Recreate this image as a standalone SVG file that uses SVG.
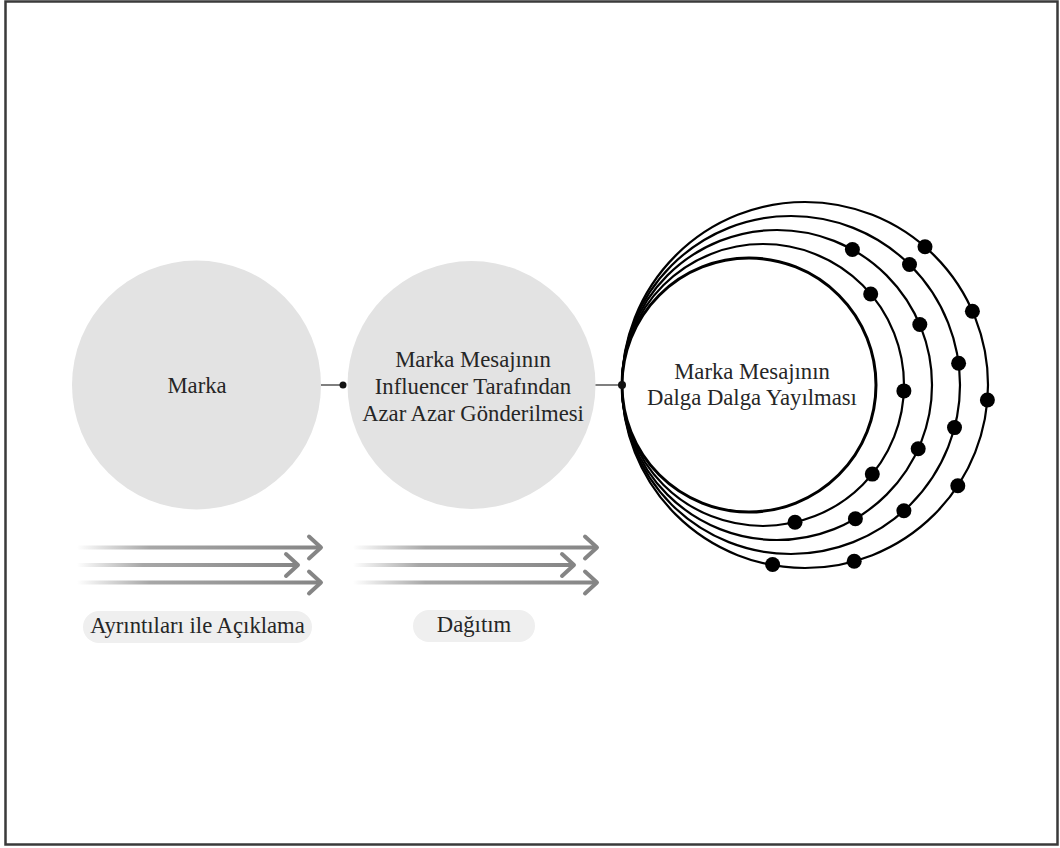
<svg xmlns="http://www.w3.org/2000/svg" width="1060" height="848" viewBox="0 0 1060 848">
  <style>
    .txt { font-family: "Liberation Serif", "Times New Roman", serif; font-size: 22.7px; fill: #262626; text-anchor: middle; }
    .node { fill: #e3e3e3; }
    .pill { fill: #efefef; }
    .ring { fill: none; stroke: #000; stroke-width: 2.2; }
    .ring-inner { fill: #fff; stroke: #000; stroke-width: 3; }
    .dot { fill: #000; }
    .conn { stroke: #555; stroke-width: 1.5; fill: none; }
    .head { fill: none; stroke: #858585; stroke-width: 4; stroke-linecap: round; stroke-linejoin: round; }
  </style>
  <defs>
    <linearGradient id="fade" x1="0" y1="0" x2="1" y2="0">
      <stop offset="0" stop-color="#888" stop-opacity="0"/>
      <stop offset="0.3" stop-color="#8a8a8a" stop-opacity="0.75"/>
      <stop offset="1" stop-color="#858585" stop-opacity="1"/>
    </linearGradient>
  </defs>

  <rect x="0" y="0" width="1060" height="848" fill="#fff"/>
  <rect x="5.5" y="1.5" width="1052" height="843" fill="none" stroke="#3a3a3a" stroke-width="2.5"/>

  <g id="node-marka">
    <circle class="node" cx="196.5" cy="385" r="124.5"/>
    <text class="txt" x="197" y="393">Marka</text>
  </g>

  <g id="node-influencer">
    <circle class="node" cx="471.5" cy="385" r="124"/>
    <text class="txt" x="473" y="367">Marka Mesajının</text>
    <text class="txt" x="473" y="394">Influencer Tarafından</text>
    <text class="txt" x="473" y="421">Azar Azar Gönderilmesi</text>
  </g>

  <g id="node-wave">
    <circle class="ring" cx="805" cy="385" r="183" stroke-width="1.8"/>
    <circle class="ring" cx="791" cy="385" r="169"/>
    <circle class="ring" cx="777" cy="385" r="155"/>
    <circle class="ring" cx="763" cy="385" r="141"/>
    <circle class="ring-inner" cx="749" cy="385" r="127"/>
    <g class="dots">
      <circle class="dot" cx="870.7" cy="294" r="7.5"/>
      <circle class="dot" cx="903.9" cy="390.9" r="7.5"/>
      <circle class="dot" cx="872.3" cy="474.1" r="7.5"/>
      <circle class="dot" cx="795" cy="522.3" r="7.5"/>
      <circle class="dot" cx="852.4" cy="249.5" r="7.5"/>
      <circle class="dot" cx="919.8" cy="324.5" r="7.5"/>
      <circle class="dot" cx="918.2" cy="448.8" r="7.5"/>
      <circle class="dot" cx="855.4" cy="518.7" r="7.5"/>
      <circle class="dot" cx="909.5" cy="264.5" r="7.5"/>
      <circle class="dot" cx="958.6" cy="363.2" r="7.5"/>
      <circle class="dot" cx="954.5" cy="427.6" r="7.5"/>
      <circle class="dot" cx="903.9" cy="510.7" r="7.5"/>
      <circle class="dot" cx="925" cy="246.8" r="7.5"/>
      <circle class="dot" cx="972.4" cy="311.2" r="7.5"/>
      <circle class="dot" cx="987.4" cy="400" r="7.5"/>
      <circle class="dot" cx="957.8" cy="485.7" r="7.5"/>
      <circle class="dot" cx="854.2" cy="561.3" r="7.5"/>
      <circle class="dot" cx="772.6" cy="564.5" r="7.5"/>
    </g>
    <text class="txt" x="752" y="379">Marka Mesajının</text>
    <text class="txt" x="752" y="405">Dalga Dalga Yayılması</text>
  </g>

  <g id="connectors">
    <line class="conn" x1="321" y1="385" x2="343" y2="385"/>
    <circle cx="343" cy="385" r="3.5" fill="#111"/>
    <line class="conn" x1="595.5" y1="385" x2="622" y2="385"/>
    <circle cx="622" cy="385" r="4" fill="#111"/>
  </g>

  <g id="arrows-aciklama">
    <rect x="77" y="545.5" width="242" height="4" fill="url(#fade)"/>
    <rect x="77" y="563" width="219" height="4" fill="url(#fade)"/>
    <rect x="77" y="580.5" width="242" height="4" fill="url(#fade)"/>
    <polyline class="head" points="309,536.5 321,547.5 309,558.5"/>
    <polyline class="head" points="286,554 298,565 286,576"/>
    <polyline class="head" points="309,571.5 321,582.5 309,593.5"/>
  </g>

  <g id="arrows-dagitim">
    <rect x="353" y="545.5" width="242" height="4" fill="url(#fade)"/>
    <rect x="353" y="563" width="219" height="4" fill="url(#fade)"/>
    <rect x="353" y="580.5" width="242" height="4" fill="url(#fade)"/>
    <polyline class="head" points="585,536.5 597,547.5 585,558.5"/>
    <polyline class="head" points="562,554 574,565 562,576"/>
    <polyline class="head" points="585,571.5 597,582.5 585,593.5"/>
  </g>

  <g id="label-aciklama">
    <rect class="pill" x="83" y="611" width="229" height="32" rx="16"/>
    <text class="txt" x="197.5" y="633">Ayrıntıları ile Açıklama</text>
  </g>

  <g id="label-dagitim">
    <rect class="pill" x="413" y="610" width="122" height="32" rx="16"/>
    <text class="txt" x="474" y="632">Dağıtım</text>
  </g>
</svg>
